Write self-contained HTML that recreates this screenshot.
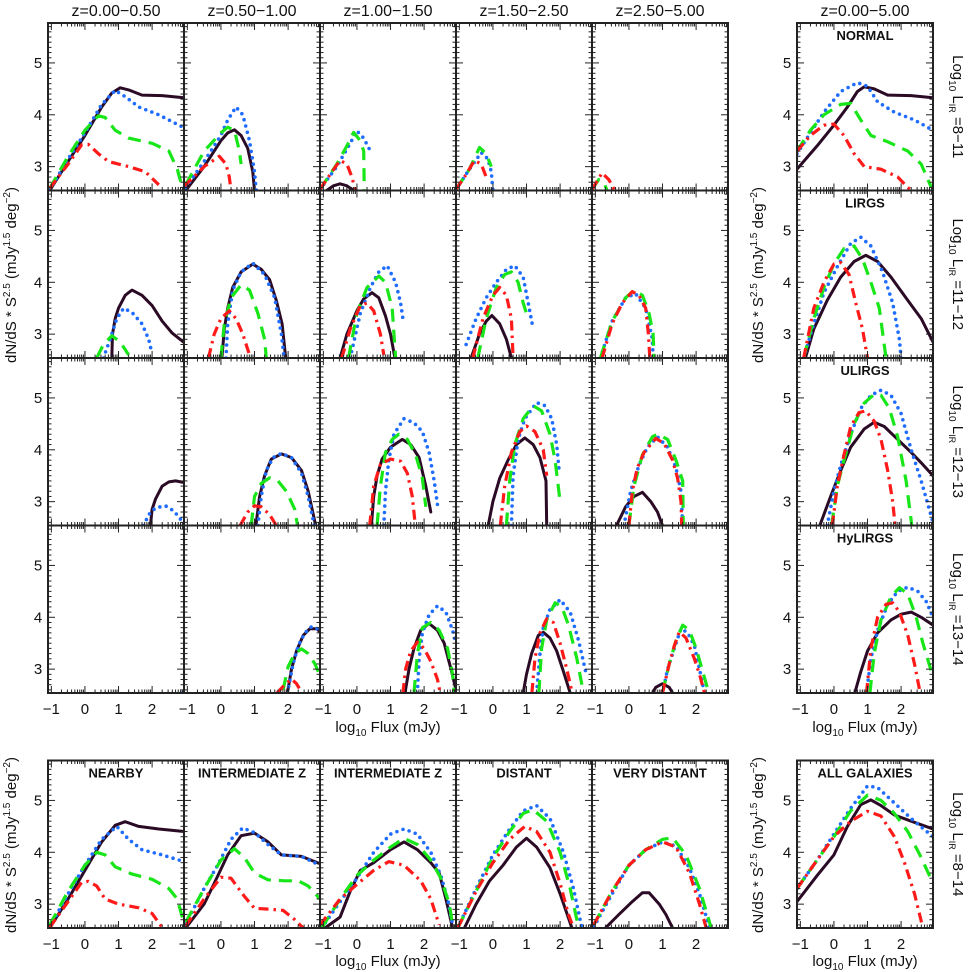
<!DOCTYPE html>
<html><head><meta charset="utf-8"><style>
html,body{margin:0;padding:0;background:#fff;}
svg{display:block;font-family:"Liberation Sans",sans-serif;}
</style></head><body>
<svg id="chart" width="970" height="972" viewBox="0 0 970 972" xmlns="http://www.w3.org/2000/svg"></svg>
<script>
// ---------- data (log10 Flux, log10 dN/dS*S^2.5) ----------
const xTicks=[-1,0,1,2];
const yTicks=[3,4,5];
const colTitles=["z=0.00\u22120.50","z=0.50\u22121.00","z=1.00\u22121.50","z=1.50\u22122.50","z=2.50\u22125.00","z=0.00\u22125.00"];
const rowRanges=["=8\u221211","=11\u221212","=12\u221213","=13\u221214","=8\u221214"];
const rightLabels=["NORMAL","LIRGS","ULIRGS","HyLIRGS","ALL GALAXIES"];
const bottomLabels=["NEARBY","INTERMEDIATE Z","INTERMEDIATE Z","DISTANT","VERY DISTANT"];

// row 1
const r1c1_solid=[[-1.05,2.54],[-0.5,3.1],[0,3.6],[0.5,4.15],[0.8,4.42],[1.05,4.52],[1.3,4.48],[1.7,4.38],[2.3,4.37],[2.95,4.33]];
const r1c1_dot=[[-1.05,2.55],[-0.5,3.15],[0,3.65],[0.5,4.2],[0.9,4.47],[1.2,4.35],[1.6,4.15],[2.2,4.0],[2.95,3.75]];
const r1c1_dash=[[-1.05,2.58],[-0.5,3.2],[0,3.7],[0.4,3.98],[0.6,3.95],[0.9,3.7],[1.3,3.55],[2.0,3.45],[2.5,3.3],[2.75,2.95],[2.9,2.6]];
const r1c1_dd=[[-1.05,2.58],[-0.5,3.05],[-0.1,3.42],[0.1,3.43],[0.4,3.25],[0.7,3.1],[1.3,3.0],[1.8,2.9],[2.2,2.65]];
const r1c2_solid=[[-1.05,2.54],[-0.5,3.0],[0,3.5],[0.2,3.65],[0.4,3.71],[0.6,3.6],[0.8,3.35],[0.95,2.9],[1.0,2.54]];
const r1c2_dot=[[-1.05,2.6],[-0.5,3.1],[0,3.6],[0.2,3.9],[0.45,4.15],[0.65,4.0],[0.85,3.5],[1.0,2.9],[1.05,2.54]];
const r1c2_dash=[[-1.05,2.65],[-0.5,3.3],[0,3.65],[0.2,3.76],[0.4,3.7],[0.55,3.3],[0.6,3.05]];
const r1c2_dd=[[-1.1,2.62],[-0.5,3.0],[-0.05,3.2],[0.15,3.05],[0.25,2.8],[0.3,2.54]];
const r1c3_solid=[[-0.9,2.54],[-0.7,2.63],[-0.5,2.67],[-0.3,2.63],[-0.1,2.54]];
const r1c3_dot=[[-1.1,2.56],[-0.6,3.0],[-0.2,3.45],[0.0,3.69],[0.2,3.55],[0.4,3.3]];
const r1c3_dash=[[-1.1,2.56],[-0.6,3.05],[-0.3,3.4],[-0.1,3.66],[0.1,3.5],[0.2,3.3],[0.22,2.54]];
const r1c3_dd=[[-1.1,2.56],[-0.8,2.85],[-0.5,3.12],[-0.3,3.05],[-0.15,2.8],[-0.05,2.54]];
const r1c4_solid=[];
const r1c4_dot=[[-1.1,2.56],[-0.7,2.95],[-0.35,3.27],[-0.15,3.15],[-0.05,2.9],[0.0,2.54]];
const r1c4_dash=[[-1.1,2.56],[-0.7,2.95],[-0.4,3.37],[-0.2,3.25],[-0.05,3.0]];
const r1c4_dd=[[-1.1,2.56],[-0.8,2.85],[-0.55,3.12],[-0.35,3.05],[-0.2,2.8]];
const r1c5_solid=[];
const r1c5_dot=[];
const r1c5_dash=[[-1.1,2.56],[-0.9,2.75],[-0.75,2.7],[-0.65,2.54]];
const r1c5_dd=[[-1.1,2.56],[-0.8,2.88],[-0.6,2.75],[-0.42,2.54]];
const r1c6_solid=[[-1.1,2.95],[-0.5,3.4],[0,3.8],[0.4,4.15],[0.7,4.45],[0.9,4.54],[1.2,4.5],[1.6,4.38],[2.3,4.37],[2.95,4.33]];
const r1c6_dot=[[-1.1,3.25],[-0.7,3.65],[-0.3,4.05],[0.2,4.45],[0.7,4.62],[1.0,4.55],[1.3,4.25],[1.8,4.05],[2.4,3.9],[2.95,3.7]];
const r1c6_dash=[[-1.1,3.3],[-0.7,3.7],[-0.3,4.0],[0.2,4.2],[0.5,4.22],[0.8,3.9],[1.1,3.6],[1.6,3.48],[2.2,3.3],[2.6,3.05],[2.9,2.6]];
const r1c6_dd=[[-1.1,3.3],[-0.7,3.6],[-0.3,3.8],[0.0,3.82],[0.3,3.6],[0.6,3.25],[0.9,3.0],[1.4,2.95],[1.9,2.8],[2.2,2.6],[2.3,2.54]];
// row 2
const r2c1_solid=[[0.8,2.54],[0.82,3.0],[0.9,3.3],[1.0,3.5],[1.2,3.75],[1.4,3.85],[1.7,3.75],[2.0,3.55],[2.3,3.25],[2.6,3.02],[2.95,2.84]];
const r2c1_dot=[[0.55,2.54],[0.75,2.9],[0.95,3.3],[1.15,3.5],[1.4,3.42],[1.7,3.2],[1.9,2.9],[2.0,2.62]];
const r2c1_dash=[[0.35,2.54],[0.55,2.8],[0.8,2.97],[1.05,2.85],[1.3,2.6]];
const r2c1_dd=[];
const r2c2_solid=[[0.03,2.54],[0.1,3.1],[0.2,3.5],[0.35,3.9],[0.6,4.2],[0.95,4.35],[1.2,4.25],[1.45,4.05],[1.65,3.65],[1.82,3.2],[1.93,2.54]];
const r2c2_dot=[[0.15,2.54],[0.2,3.2],[0.35,3.85],[0.6,4.2],[0.95,4.37],[1.3,4.15],[1.6,3.7],[1.8,3.0],[1.88,2.54]];
const r2c2_dash=[[0.0,2.54],[0.1,3.2],[0.3,3.7],[0.6,3.95],[0.85,3.85],[1.1,3.4],[1.3,2.9],[1.35,2.54]];
const r2c2_dd=[[-0.37,2.54],[-0.2,3.0],[0.0,3.3],[0.25,3.45],[0.45,3.3],[0.65,3.0],[0.88,2.54]];
const r2c3_solid=[[-0.5,2.54],[-0.3,3.0],[0,3.45],[0.2,3.68],[0.45,3.8],[0.65,3.7],[0.85,3.35],[1.0,3.0],[1.13,2.54]];
const r2c3_dot=[[-0.2,2.54],[0.1,3.4],[0.4,3.9],[0.65,4.2],[0.9,4.32],[1.15,4.0],[1.3,3.6],[1.37,3.3]];
const r2c3_dash=[[-0.25,2.54],[0,3.4],[0.3,3.9],[0.65,4.12],[0.85,4.0],[1.05,3.5],[1.15,2.54]];
const r2c3_dd=[[-0.45,2.54],[-0.2,3.1],[0.1,3.55],[0.3,3.6],[0.5,3.45],[0.7,3.0],[0.8,2.6]];
const r2c4_solid=[[-0.65,2.54],[-0.4,3.0],[-0.2,3.25],[-0.03,3.36],[0.2,3.2],[0.4,2.9],[0.55,2.54]];
const r2c4_dot=[[-0.8,2.8],[-0.5,3.3],[-0.2,3.7],[0.1,4.0],[0.4,4.25],[0.65,4.32],[0.9,4.1],[1.05,3.6],[1.17,3.2]];
const r2c4_dash=[[-0.45,2.54],[-0.2,3.3],[0.1,3.9],[0.35,4.15],[0.55,4.2],[0.75,4.0],[0.9,3.6],[1.0,3.4]];
const r2c4_dd=[[-0.6,2.54],[-0.3,3.3],[0.0,3.75],[0.2,3.9],[0.4,3.75],[0.55,3.3],[0.6,2.54]];
const r2c5_solid=[];
const r2c5_dot=[[-0.85,2.54],[-0.5,3.25],[-0.1,3.7],[0.2,3.78],[0.5,3.5],[0.7,2.9],[0.72,2.54]];
const r2c5_dash=[[-0.85,2.54],[-0.5,3.25],[-0.1,3.7],[0.15,3.85],[0.4,3.75],[0.6,3.4],[0.72,3.0],[0.75,2.54]];
const r2c5_dd=[[-0.8,2.54],[-0.5,3.2],[-0.2,3.6],[0.1,3.82],[0.3,3.75],[0.5,3.5],[0.58,3.0],[0.62,2.54]];
const r2c6_solid=[[-0.85,2.54],[-0.6,3.1],[-0.2,3.65],[0.2,4.1],[0.6,4.4],[0.95,4.52],[1.3,4.4],[1.7,4.1],[2.2,3.65],[2.6,3.3],[2.95,2.85]];
const r2c6_dot=[[-0.9,2.54],[-0.6,3.2],[-0.3,3.8],[0.1,4.3],[0.5,4.75],[0.8,4.87],[1.1,4.7],[1.45,4.2],[1.75,3.6],[1.95,2.9],[2.0,2.54]];
const r2c6_dash=[[-0.9,2.54],[-0.6,3.3],[-0.3,3.9],[0.0,4.35],[0.3,4.65],[0.6,4.7],[0.85,4.45],[1.1,4.0],[1.35,3.5],[1.55,2.54]];
const r2c6_dd=[[-0.9,2.54],[-0.6,3.5],[-0.3,4.0],[0.0,4.35],[0.2,4.38],[0.45,4.15],[0.65,3.6],[0.85,3.1],[1.0,2.54]];
// row 3
const r3c1_solid=[[1.95,2.54],[2.0,2.85],[2.1,3.05],[2.3,3.3],[2.5,3.38],[2.7,3.4],[2.95,3.37]];
const r3c1_dot=[[1.75,2.54],[1.9,2.75],[2.1,2.88],[2.4,2.92],[2.65,2.82],[2.9,2.62]];
const r3c1_dash=[];
const r3c1_dd=[];
const r3c2_solid=[[1.04,2.54],[1.15,3.1],[1.3,3.5],[1.5,3.82],[1.8,3.92],[2.1,3.85],[2.4,3.6],[2.6,3.2],[2.8,2.6]];
const r3c2_dot=[[1.1,2.54],[1.2,3.1],[1.35,3.6],[1.55,3.85],[1.8,3.93],[2.1,3.85],[2.4,3.55],[2.6,3.1],[2.78,2.54]];
const r3c2_dash=[[0.9,2.54],[1.0,3.1],[1.2,3.35],[1.45,3.46],[1.7,3.4],[1.95,3.2],[2.2,2.85],[2.28,2.54]];
const r3c2_dd=[[0.57,2.54],[0.8,2.8],[1.0,2.92],[1.2,2.9],[1.45,2.75],[1.65,2.54]];
const r3c3_solid=[[0.43,2.54],[0.5,3.1],[0.6,3.5],[0.75,3.82],[1.0,4.05],[1.35,4.2],[1.6,4.1],[1.85,3.85],[2.05,3.3],[2.2,2.8]];
const r3c3_dot=[[0.8,2.54],[0.85,3.2],[0.95,3.8],[1.1,4.3],[1.4,4.6],[1.7,4.52],[1.95,4.35],[2.15,3.95],[2.3,3.4],[2.42,2.84]];
const r3c3_dash=[[0.6,2.54],[0.7,3.3],[0.85,3.95],[1.05,4.2],[1.25,4.3],[1.5,4.2],[1.75,3.9],[1.95,3.45],[2.05,2.9]];
const r3c3_dd=[[0.38,2.54],[0.5,3.3],[0.7,3.72],[1.0,3.82],[1.3,3.78],[1.5,3.55],[1.65,3.1],[1.73,2.6]];
const r3c4_solid=[[-0.14,2.54],[0.0,3.0],[0.2,3.45],[0.45,3.8],[0.7,4.1],[0.95,4.23],[1.2,4.1],[1.4,3.85],[1.58,3.4],[1.6,2.54]];
const r3c4_dot=[[0.55,2.54],[0.6,3.5],[0.75,4.2],[0.95,4.6],[1.3,4.91],[1.55,4.85],[1.75,4.6],[1.9,4.1],[1.97,3.6]];
const r3c4_dash=[[0.4,2.54],[0.5,3.4],[0.65,4.1],[0.9,4.6],[1.2,4.85],[1.45,4.75],[1.7,4.3],[1.85,3.8],[2.0,3.0]];
const r3c4_dd=[[0.22,2.54],[0.35,3.3],[0.55,3.95],[0.8,4.35],[1.0,4.46],[1.25,4.35],[1.5,4.0],[1.6,3.5]];
const r3c5_solid=[[-0.37,2.54],[-0.1,2.9],[0.15,3.1],[0.4,3.18],[0.65,3.0],[0.85,2.8],[1.0,2.54]];
const r3c5_dot=[[-0.15,2.54],[0.05,3.2],[0.3,3.7],[0.55,4.05],[0.85,4.25],[1.15,4.05],[1.4,3.65],[1.55,3.2],[1.6,2.54]];
const r3c5_dash=[[0.0,2.54],[0.15,3.3],[0.4,3.9],[0.7,4.25],[0.85,4.3],[1.15,4.2],[1.4,3.8],[1.6,3.4],[1.62,2.54]];
const r3c5_dd=[[0.0,2.54],[0.1,3.2],[0.25,3.65],[0.45,3.95],[0.8,4.22],[1.05,4.12],[1.3,3.8],[1.45,3.45],[1.55,3.0],[1.57,2.54]];
const r3c6_solid=[[-0.42,2.54],[-0.1,3.1],[0.2,3.6],[0.5,4.05],[0.9,4.4],[1.2,4.53],[1.5,4.45],[1.9,4.2],[2.3,3.95],[2.6,3.75],[2.95,3.5]];
const r3c6_dot=[[-0.2,2.54],[0.0,3.2],[0.2,3.7],[0.5,4.3],[0.8,4.8],[1.1,5.05],[1.4,5.15],[1.7,5.05],[2.0,4.7],[2.3,4.0],[2.6,3.4],[2.95,2.6]];
const r3c6_dash=[[-0.07,2.54],[0.1,3.3],[0.3,3.8],[0.6,4.5],[0.9,4.9],[1.2,5.07],[1.4,5.05],[1.65,4.8],[1.9,4.25],[2.15,3.4],[2.32,2.54]];
const r3c6_dd=[[-0.05,2.54],[0.1,3.3],[0.3,3.9],[0.5,4.45],[0.75,4.72],[0.95,4.75],[1.2,4.55],[1.4,4.2],[1.6,3.6],[1.75,3.0],[1.82,2.54]];
// row 4
const r4c1_solid=[];
const r4c1_dot=[[2.88,2.54],[2.95,2.58]];
const r4c1_dash=[];
const r4c1_dd=[];
const r4c2_solid=[[1.98,2.54],[2.1,3.0],[2.25,3.35],[2.45,3.65],[2.65,3.78],[2.85,3.78],[2.95,3.72]];
const r4c2_dot=[[1.98,2.54],[2.15,3.1],[2.3,3.45],[2.5,3.7],[2.7,3.82],[2.95,3.76]];
const r4c2_dash=[[1.85,2.6],[2.0,3.05],[2.2,3.3],[2.4,3.39],[2.6,3.3],[2.8,3.1],[2.9,2.95]];
const r4c2_dd=[[1.67,2.54],[1.9,2.7],[2.1,2.81],[2.25,2.72],[2.4,2.56]];
const r4c3_solid=[[1.43,2.54],[1.55,3.0],[1.7,3.4],[1.9,3.75],[2.15,3.88],[2.4,3.75],[2.6,3.5],[2.8,3.0],[2.95,2.6]];
const r4c3_dot=[[1.8,2.54],[1.85,3.2],[1.95,3.7],[2.15,4.05],[2.4,4.22],[2.65,4.1],[2.85,3.75],[2.95,3.5]];
const r4c3_dash=[[1.7,2.54],[1.8,3.3],[1.95,3.8],[2.2,3.9],[2.45,3.75],[2.7,3.4],[2.85,2.9],[2.9,2.54]];
const r4c3_dd=[[1.37,2.54],[1.45,3.0],[1.6,3.35],[1.8,3.52],[2.0,3.4],[2.2,3.15],[2.4,2.8],[2.48,2.54]];
const r4c4_solid=[[0.9,2.54],[1.0,2.9],[1.15,3.3],[1.35,3.65],[1.5,3.71],[1.7,3.6],[1.9,3.35],[2.1,2.95],[2.3,2.54]];
const r4c4_dot=[[1.3,2.54],[1.4,3.3],[1.5,3.8],[1.7,4.15],[2.0,4.34],[2.3,4.1],[2.55,3.55],[2.78,2.9]];
const r4c4_dash=[[1.37,2.54],[1.45,3.4],[1.6,3.95],[1.85,4.28],[2.05,4.2],[2.25,3.85],[2.5,3.2],[2.68,2.6]];
const r4c4_dd=[[1.16,2.54],[1.25,3.2],[1.4,3.7],[1.6,3.97],[1.8,3.9],[2.0,3.5],[2.2,3.0],[2.36,2.54]];
const r4c5_solid=[[0.7,2.54],[0.8,2.65],[1.0,2.72],[1.2,2.65],[1.3,2.54]];
const r4c5_dot=[[1.0,2.54],[1.15,3.0],[1.35,3.4],[1.55,3.78],[1.75,3.7],[1.95,3.45],[2.1,3.0],[2.25,2.54]];
const r4c5_dash=[[1.0,2.54],[1.2,3.1],[1.4,3.55],[1.6,3.85],[1.8,3.75],[2.0,3.4],[2.2,2.95],[2.35,2.6]];
const r4c5_dd=[[1.0,2.54],[1.2,3.1],[1.35,3.45],[1.5,3.72],[1.7,3.6],[1.95,3.2],[2.1,2.9],[2.25,2.54]];
const r4c6_solid=[[0.62,2.54],[0.8,2.95],[1.0,3.35],[1.3,3.7],[1.7,3.95],[2.0,4.06],[2.3,4.1],[2.6,4.0],[2.95,3.85]];
const r4c6_dot=[[0.97,2.54],[1.1,3.2],[1.3,3.75],[1.6,4.25],[1.9,4.5],[2.2,4.58],[2.5,4.5],[2.75,4.3],[2.95,4.0]];
const r4c6_dash=[[1.07,2.54],[1.2,3.3],[1.4,3.95],[1.7,4.4],[1.95,4.57],[2.2,4.45],[2.45,4.0],[2.65,3.5],[2.95,2.85]];
const r4c6_dd=[[0.97,2.54],[1.1,3.4],[1.3,4.0],[1.55,4.25],[1.75,4.28],[1.95,4.1],[2.2,3.65],[2.4,3.1],[2.57,2.54]];
// row 5 (summed over luminosity)
const r5c1_solid=[[-1.05,2.54],[-0.5,3.1],[0,3.65],[0.5,4.2],[0.9,4.52],[1.2,4.59],[1.6,4.5],[2.2,4.45],[2.95,4.4]];
const r5c1_dot=[[-1.05,2.56],[-0.5,3.2],[0,3.75],[0.5,4.25],[0.95,4.5],[1.3,4.25],[1.7,4.05],[2.3,3.95],[2.95,3.82]];
const r5c1_dash=[[-1.05,2.6],[-0.5,3.25],[0,3.75],[0.35,4.0],[0.6,3.95],[0.9,3.72],[1.4,3.58],[2.0,3.48],[2.5,3.3],[2.75,3.1],[2.92,2.7]];
const r5c1_dd=[[-1.05,2.55],[-0.5,3.05],[-0.1,3.42],[0.1,3.44],[0.35,3.35],[0.6,3.1],[1.0,3.0],[1.6,2.93],[2.0,2.82],[2.3,2.55]];
const r5c2_solid=[[-1.05,2.54],[-0.5,3.0],[-0.2,3.4],[0.2,3.95],[0.6,4.32],[1.0,4.37],[1.4,4.2],[1.8,3.95],[2.4,3.92],[2.95,3.78]];
const r5c2_dot=[[-1.05,2.62],[-0.5,3.3],[-0.1,3.75],[0.3,4.25],[0.65,4.47],[1.0,4.38],[1.4,4.15],[1.8,3.95],[2.4,3.92],[2.95,3.75]];
const r5c2_dash=[[-1.05,2.65],[-0.5,3.3],[0,3.85],[0.4,4.07],[0.7,3.9],[1.0,3.6],[1.4,3.47],[1.9,3.45],[2.3,3.45],[2.6,3.35],[2.95,3.1]];
const r5c2_dd=[[-1.05,2.58],[-0.5,3.1],[0,3.52],[0.3,3.5],[0.7,3.15],[1.0,2.92],[1.5,2.9],[1.85,2.88],[2.2,2.7],[2.45,2.54]];
const r5c3_solid=[[-0.95,2.54],[-0.5,2.75],[-0.2,3.25],[0.1,3.65],[0.5,3.8],[1.0,4.05],[1.4,4.2],[1.8,4.05],[2.2,3.8],[2.45,3.6],[2.65,3.1],[2.85,2.54]];
const r5c3_dot=[[-1.05,2.54],[-0.5,3.05],[0,3.5],[0.5,4.0],[1.0,4.35],[1.4,4.45],[1.8,4.35],[2.2,4.0],[2.5,3.55],[2.7,3.1],[2.85,2.6]];
const r5c3_dash=[[-1.05,2.54],[-0.5,3.1],[0,3.55],[0.5,3.85],[1.0,4.1],[1.4,4.27],[1.8,4.15],[2.2,3.85],[2.5,3.5],[2.75,3.0],[2.85,2.6]];
const r5c3_dd=[[-1.1,2.6],[-0.5,3.1],[0,3.38],[0.5,3.65],[0.95,3.82],[1.4,3.75],[1.9,3.45],[2.2,3.1],[2.45,2.6]];
const r5c4_solid=[[-0.85,2.54],[-0.5,3.0],[-0.1,3.45],[0.3,3.75],[0.7,4.1],[1.0,4.27],[1.3,4.1],[1.7,3.7],[2.0,3.2],[2.35,2.54]];
const r5c4_dot=[[-1.05,2.54],[-0.5,3.3],[0,3.95],[0.5,4.45],[0.9,4.8],[1.3,4.9],[1.7,4.65],[2.1,4.0],[2.4,3.3],[2.65,2.54]];
const r5c4_dash=[[-1.05,2.54],[-0.5,3.25],[0,3.9],[0.5,4.4],[0.9,4.75],[1.2,4.82],[1.6,4.6],[2.0,4.0],[2.3,3.3],[2.55,2.54]];
const r5c4_dd=[[-1.05,2.54],[-0.5,3.25],[0,3.8],[0.5,4.25],[0.95,4.5],[1.3,4.4],[1.7,4.0],[2.0,3.4],[2.25,2.8],[2.4,2.54]];
const r5c5_solid=[[-0.7,2.54],[-0.3,2.8],[0.1,3.05],[0.4,3.22],[0.6,3.22],[0.9,3.0],[1.1,2.8],[1.3,2.54]];
const r5c5_dot=[[-1.05,2.56],[-0.5,3.2],[0,3.75],[0.5,4.05],[1.0,4.2],[1.4,4.12],[1.8,3.7],[2.1,3.2],[2.4,2.54]];
const r5c5_dash=[[-1.05,2.6],[-0.5,3.25],[0,3.75],[0.5,4.05],[1.0,4.25],[1.3,4.28],[1.7,3.95],[2.1,3.3],[2.45,2.54]];
const r5c5_dd=[[-1.05,2.6],[-0.5,3.25],[0,3.75],[0.5,4.05],[1.0,4.2],[1.4,4.1],[1.8,3.6],[2.1,3.0],[2.3,2.54]];
const r5c6_solid=[[-1.1,3.05],[-0.5,3.55],[0,3.95],[0.4,4.5],[0.8,4.92],[1.1,5.01],[1.4,4.9],[1.8,4.72],[2.3,4.6],[2.95,4.45]];
const r5c6_dot=[[-1.1,3.3],[-0.5,3.85],[0,4.35],[0.5,4.85],[1.0,5.28],[1.3,5.25],[1.8,4.95],[2.3,4.65],[2.95,4.3]];
const r5c6_dash=[[-1.1,3.3],[-0.5,3.85],[0,4.3],[0.5,4.8],[1.0,5.1],[1.4,5.0],[1.8,4.75],[2.2,4.4],[2.6,3.9],[2.95,3.4]];
const r5c6_dd=[[-1.1,3.3],[-0.5,3.85],[0,4.3],[0.5,4.6],[1.0,4.79],[1.4,4.7],[1.8,4.3],[2.1,3.8],[2.4,3.2],[2.65,2.54]];

// ---------- layout ----------
const NS="http://www.w3.org/2000/svg";
const svg=document.getElementById('chart');
const XMIN=-1.1,XMAX=2.95,YMIN=2.54,YMAX=5.77,PW=136,PH=167.5;
const colLeft=[48,184,320,456,592,797];
const rowTop=[23,190.5,358,525.5,760.5];
const S={
 solid:{c:'#2a0a24',w:3,d:null,cap:'round'},
 dot:{c:'#1f6dff',w:3.6,d:'0 6.5',cap:'round'},
 dash:{c:'#19e619',w:3.2,d:'13 8',cap:'butt'},
 dd:{c:'#ff1a1a',w:3.2,d:'10 5 2.5 5',cap:'butt'}
};
function el(tag,attrs,parent){const e=document.createElementNS(NS,tag);for(const k in attrs)e.setAttribute(k,attrs[k]);(parent||svg).appendChild(e);return e;}
function sx(left,x){return left+(x-XMIN)/(XMAX-XMIN)*PW;}
function sy(top,y){return top+(YMAX-y)/(YMAX-YMIN)*PH;}

const dataArrays={};
for(let r=1;r<=5;r++)for(let c=1;c<=6;c++)for(const s of ['solid','dot','dash','dd']){try{dataArrays['r'+r+'c'+c+'_'+s]=eval('r'+r+'c'+c+'_'+s);}catch(e){}}

const defs=el('defs',{});
for(let r=0;r<5;r++){
 for(let c=0;c<6;c++){
  const left=colLeft[c],top=rowTop[r];
  const cp=el('clipPath',{id:'cp'+r+'_'+c},defs);
  el('rect',{x:left,y:top,width:PW,height:PH},cp);
  const g=el('g',{});
  
  
  el('rect',{x:left,y:top,width:PW,height:PH,fill:'#fff'},g);
  const cg=el('g',{'clip-path':'url(#cp'+r+'_'+c+')'},g);
  for(const s of ['solid','dot','dash','dd']){
   const arr=dataArrays['r'+(r+1)+'c'+(c+1)+'_'+s];
   if(!arr||arr.length<2)continue;
   const st=S[s];
   const pts=arr.map(p=>sx(left,p[0]).toFixed(1)+','+sy(top,p[1]).toFixed(1)).join(' ');
   const pl=el('polyline',{points:pts,fill:'none',stroke:st.c,'stroke-width':st.w,'stroke-linecap':st.cap,'stroke-linejoin':'round'},cg);
   if(st.d)pl.setAttribute('stroke-dasharray',st.d);
   
   
  }
  // ticks
  const tk=el('g',{stroke:'#222','stroke-width':1},g);
  for(let d=-1;d<=2;d++){
   for(let m=1;m<=9;m++){
    const xv=d+Math.log10(m);
    if(xv<XMIN||xv>XMAX)continue;
    const px=sx(left,xv),L=(m===1)?7:3.5;
    el('line',{x1:px,y1:top+PH,x2:px,y2:top+PH-L},tk);
    el('line',{x1:px,y1:top,x2:px,y2:top+L},tk);
   }
  }
  for(let v=2.6;v<=5.75;v+=0.1){
   const yv=Math.round(v*10)/10;const py=sy(top,yv);const maj=Math.abs(yv-Math.round(yv))<0.01;const L=maj?7:3.5;
   el('line',{x1:left,y1:py,x2:left+L,y2:py},tk);
   el('line',{x1:left+PW,y1:py,x2:left+PW-L,y2:py},tk);
  }
  el('rect',{x:left,y:top,width:PW,height:PH,fill:'none',stroke:'#222','stroke-width':2},g);
 }
}
function txt(x,y,s,size,attrs){const t=el('text',Object.assign({x:x,y:y,'font-size':size,'text-anchor':'middle',fill:'#111'},attrs||{}));t.textContent=s;return t;}
// column titles
colTitles.forEach((s,i)=>{const t=txt(colLeft[i]+PW/2,16,s,16);});
// y tick labels
[0,5].forEach(c=>{for(let r=0;r<5;r++){yTicks.forEach(v=>{const t=txt(colLeft[c]-10,sy(rowTop[r],v)+5,String(v),15);});}});
// x tick labels
[3,4].forEach(r=>{for(let c=0;c<6;c++){xTicks.forEach(v=>{const t=txt(sx(colLeft[c],v),rowTop[r]+PH+21,v<0?'\u22121':String(v),15);});}});
// x axis titles
function xTitle(cx,y){const t=el('text',{x:cx,y:y,'font-size':15,'text-anchor':'middle',fill:'#111'});t.innerHTML='log<tspan dy="4" font-size="10">10</tspan><tspan dy="-4"> Flux (mJy)</tspan>';}
xTitle(388,732);xTitle(865,732);xTitle(388,966);xTitle(865,966);
// y axis titles
function yTitle(cx,cy){const t=el('text',{x:0,y:0,'font-size':15,'text-anchor':'middle',fill:'#111',transform:'translate('+cx+','+cy+') rotate(-90)'});t.innerHTML='dN/dS * S<tspan dy="-6" font-size="10">2.5</tspan><tspan dy="6"> (mJy</tspan><tspan dy="-6" font-size="10">1.5</tspan><tspan dy="6"> deg</tspan><tspan dy="-6" font-size="10">\u22122</tspan><tspan dy="6">)</tspan>';}
yTitle(16,275);yTitle(763,275);yTitle(16,845);yTitle(763,845);
// right luminosity labels
rowRanges.forEach((s,i)=>{const cy=rowTop[i]+PH/2;const t=el('text',{x:0,y:0,'font-size':15,'text-anchor':'middle',fill:'#111',transform:'translate(953,'+cy+') rotate(90)'});t.innerHTML='Log<tspan dy="4" font-size="10">10</tspan><tspan dy="-4"> L</tspan><tspan dy="4" font-size="9">IR</tspan><tspan dy="-4"> '+s+'</tspan>';});
// panel labels
rightLabels.forEach((s,i)=>{const t=txt(colLeft[5]+PW/2,rowTop[i]+17,s,13,{'font-weight':'bold'});});
bottomLabels.forEach((s,i)=>{const t=txt(colLeft[i]+PW/2,rowTop[4]+17,s,13,{'font-weight':'bold'});});
</script>
</body></html>
